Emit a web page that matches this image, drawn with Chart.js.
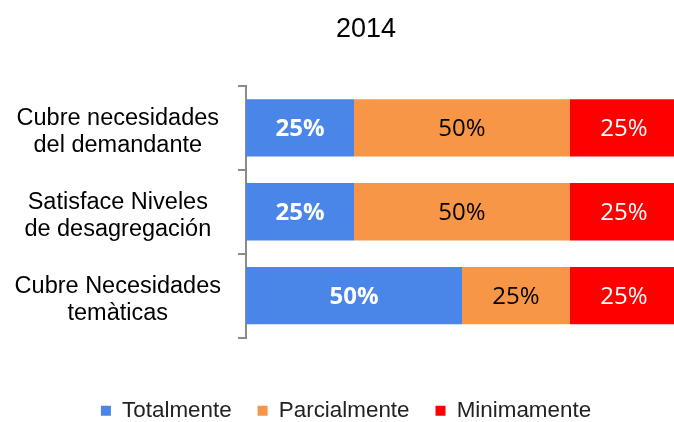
<!DOCTYPE html>
<html>
<head>
<meta charset="utf-8">
<script src="https://cdn.jsdelivr.net/npm/chart.js@4"></script>
<style>
    html, body {
        margin: 0;
        padding: 0;
        background: #fff;
        overflow: hidden;
    }
    #wrap {
        position: relative;
        width: 678px;
        height: 422px;
    }
</style>
</head>
<body>
<div id="wrap"><canvas id="chart"></canvas></div>
<script>
// Chart data
const chartTitle = '2014';
const categories = [
    ['Cubre necesidades', 'del demandante'],
    ['Satisface Niveles', 'de desagregación'],
    ['Cubre Necesidades', 'temàticas']
];
const seriesNames = ['Totalmente', 'Parcialmente', 'Minimamente'];
const totalmente = [25, 25, 50];
const parcialmente = [50, 50, 25];
const minimamente = [25, 25, 25];

const colors = ['#4a86e8', '#f79646', '#ff0000'];
const labelColors = ['#ffffff', '#000000', '#ffffff'];
const labelWeights = ['bold', 'normal', 'normal'];

// draws the title off-centre, like the original
const titlePlugin = {
    id: 'titleText',
    afterDraw(chart) {
        const ctx = chart.ctx;
        ctx.save();
        ctx.font = '27px "Liberation Sans", Arial, sans-serif';
        ctx.fillStyle = '#000';
        ctx.textAlign = 'center';
        ctx.textBaseline = 'middle';
        ctx.fillText(chartTitle, 366, 30);
        ctx.restore();
    }
};

// value labels in the middle of each segment
const valueLabels = {
    id: 'valueLabels',
    afterDatasetsDraw(chart) {
        const ctx = chart.ctx;
        ctx.save();
        ctx.textAlign = 'center';
        ctx.textBaseline = 'middle';
        chart.data.datasets.forEach((ds, i) => {
            const meta = chart.getDatasetMeta(i);
            ctx.font = labelWeights[i] + ' 24px "Open Sans", sans-serif';
            ctx.fillStyle = labelColors[i];
            meta.data.forEach((bar, j) => {
                const x = (bar.x + bar.base) / 2;
                ctx.fillText(ds.data[j] + '%', x, bar.y + 1);
            });
        });
        ctx.restore();
    }
};

new Chart(document.getElementById('chart'), {
    type: 'bar',
    data: {
        labels: categories,
        datasets: [
            { label: seriesNames[0], data: totalmente, backgroundColor: colors[0] },
            { label: seriesNames[1], data: parcialmente, backgroundColor: colors[1] },
            { label: seriesNames[2], data: minimamente, backgroundColor: colors[2] }
        ]
    },
    options: {
        indexAxis: 'y',
        responsive: true,
        maintainAspectRatio: false,
        animation: false,
        barPercentage: 0.9,
        categoryPercentage: 0.76,
        layout: {
            padding: { top: 86, left: 14, right: 0, bottom: -10 }
        },
        scales: {
            x: {
                stacked: true,
                min: 0,
                max: 100,
                grid: { display: false },
                border: { display: false },
                ticks: { display: false },
                afterFit: (scale) => { scale.height = 36; }
            },
            y: {
                stacked: true,
                grid: {
                    drawOnChartArea: false,
                    drawTicks: true,
                    tickLength: 8,
                    lineWidth: 2,
                    color: '#8c8c8c'
                },
                border: { display: true, color: '#8c8c8c', width: 2 },
                ticks: {
                    color: '#000',
                    font: { family: '"Liberation Sans", Arial, sans-serif', size: 23.5, lineHeight: 1.15 },
                    crossAlign: 'center',
                    padding: 17,
                    labelOffset: 4
                },
                afterFit: (scale) => { scale.width = 232; }
            }
        },
        plugins: {
            legend: {
                position: 'bottom',
                labels: {
                    boxWidth: 10,
                    boxHeight: 10,
                    padding: 26,
                    color: '#222',
                    font: { family: '"Liberation Sans", Arial, sans-serif', size: 22.4 }
                }
            },
            tooltip: { enabled: false }
        }
    },
    plugins: [titlePlugin, valueLabels]
});
</script>
</body>
</html>
